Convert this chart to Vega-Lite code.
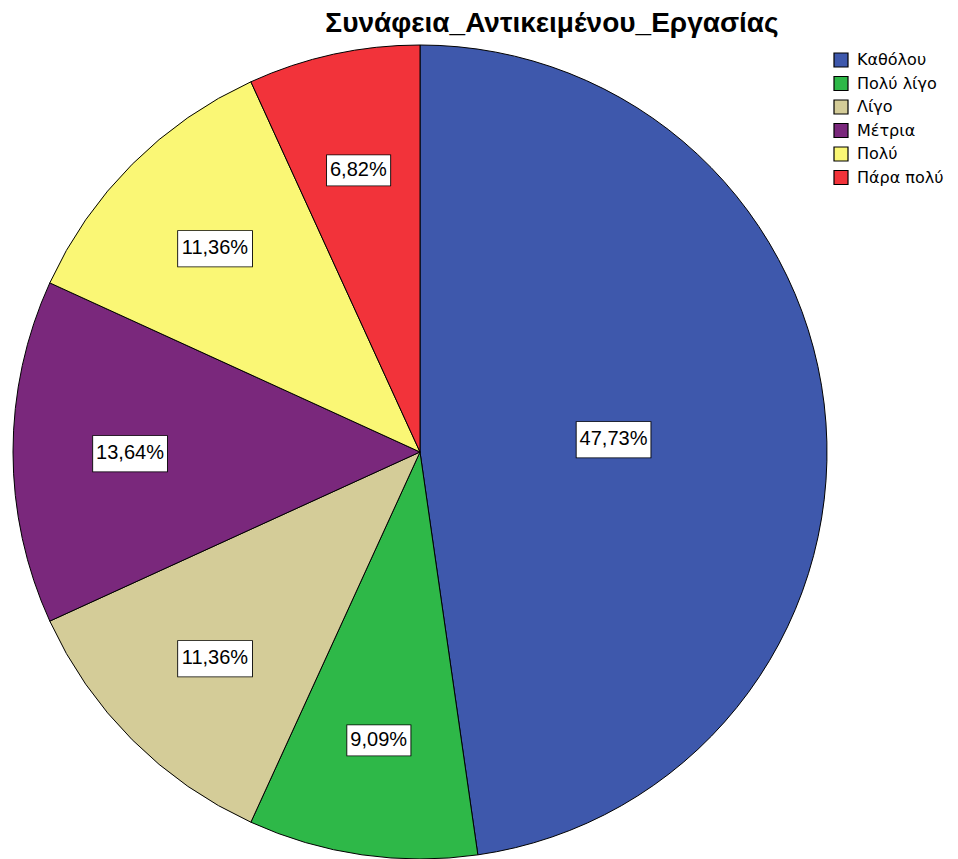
{
  "$schema": "https://vega.github.io/schema/vega-lite/v6.json",
  "autosize": "none",
  "width": 816,
  "height": 814,
  "padding": {"left": 12, "top": 45, "right": 130, "bottom": 0},
  "background": "white",
  "title": {
    "text": "Συνάφεια_Αντικειμένου_Εργασίας",
    "font": "Liberation Sans",
    "fontSize": 28,
    "fontWeight": "bold",
    "color": "black",
    "anchor": "middle",
    "frame": "group",
    "dx": 132,
    "offset": 5
  },
  "data": {
    "values": [
      {"cat": "Καθόλου", "pct": 47.73, "ord": 1, "label": "47,73%"},
      {"cat": "Πολύ λίγο", "pct": 9.09, "ord": 2, "label": "9,09%"},
      {"cat": "Λίγο", "pct": 11.36, "ord": 3, "label": "11,36%"},
      {"cat": "Μέτρια", "pct": 13.64, "ord": 4, "label": "13,64%"},
      {"cat": "Πολύ", "pct": 11.36, "ord": 5, "label": "11,36%"},
      {"cat": "Πάρα πολύ", "pct": 6.82, "ord": 6, "label": "6,82%"}
    ]
  },
  "encoding": {
    "theta": {"field": "pct", "type": "quantitative", "stack": true},
    "order": {"field": "ord", "type": "quantitative"}
  },
  "layer": [
    {
      "mark": {"type": "arc", "stroke": "black", "strokeWidth": 1, "radius": 407},
      "encoding": {
        "color": {
          "field": "cat",
          "type": "nominal",
          "sort": null,
          "scale": {
            "domain": ["Καθόλου", "Πολύ λίγο", "Λίγο", "Μέτρια", "Πολύ", "Πάρα πολύ"],
            "range": ["#3E58AC", "#2EB848", "#D4CC98", "#7A287C", "#FAF775", "#F2333A"]
          },
          "legend": {
            "orient": "none",
            "legendX": 821,
            "legendY": 7,
            "title": null,
            "symbolType": "square",
            "symbolSize": 196,
            "symbolStrokeColor": "black",
            "symbolStrokeWidth": 1.2,
            "symbolOpacity": 1,
            "labelFont": "DejaVu Sans",
            "labelFontSize": 16,
            "labelColor": "black",
            "labelOffset": 8,
            "rowPadding": 3.5
          }
        }
      }
    },
    {
      "mark": {"type": "text", "text": "▬", "font": "DejaVu Sans", "fill": "white", "stroke": "black", "strokeWidth": 0.9, "dy": -2},
      "encoding": {
        "size": {"condition": {"test": "datum.pct >= 10", "value": 98}, "value": 84},
        "radius": {"field": "pct", "type": "quantitative", "scale": {"type": "linear", "zero": false, "clamp": true, "domain": [13.64, 47.73], "range": [290, 194]}}
      }
    },
    {
      "mark": {"type": "text", "font": "Liberation Sans", "fontSize": 20, "color": "black", "dy": 1},
      "encoding": {
        "text": {"field": "label"},
        "radius": {"field": "pct", "type": "quantitative", "scale": {"type": "linear", "zero": false, "clamp": true, "domain": [13.64, 47.73], "range": [290, 194]}}
      }
    }
  ]
}
